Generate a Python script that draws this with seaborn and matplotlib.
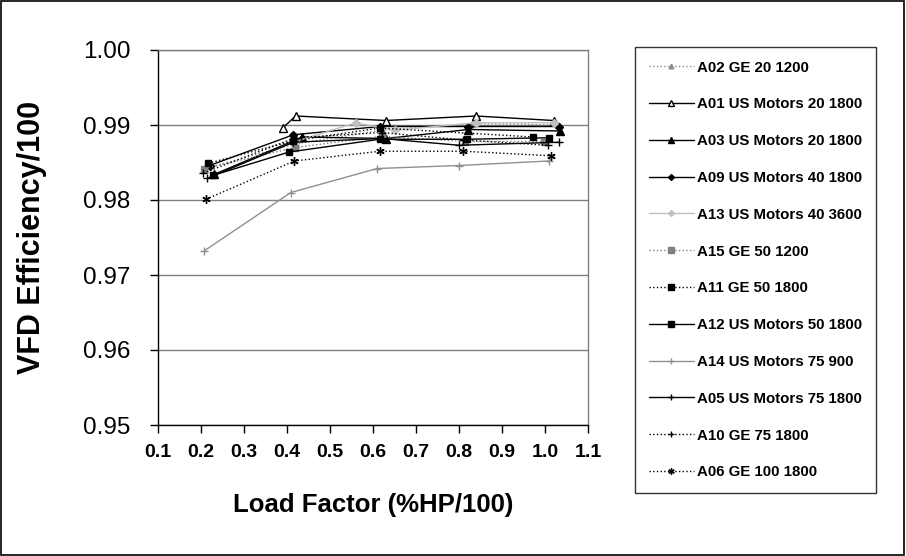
import matplotlib
matplotlib.use("Agg")
import matplotlib.pyplot as plt
import seaborn as sns
import pandas as pd
from matplotlib.patches import Rectangle

sns.set_theme(style="white")
plt.rcParams['font.family'] = ['Liberation Sans', 'DejaVu Sans']
plt.rcParams['text.color'] = 'black'
plt.rcParams['axes.labelcolor'] = 'black'
plt.rcParams['xtick.color'] = 'black'
plt.rcParams['ytick.color'] = 'black'

labels = ["A02 GE 20 1200", "A01 US Motors 20 1800", "A03 US Motors 20 1800",
          "A09 US Motors 40 1800", "A13 US Motors 40 3600", "A15 GE 50 1200",
          "A11 GE 50 1800", "A12 US Motors 50 1800", "A14 US Motors 75 900",
          "A05 US Motors 75 1800", "A10 GE 75 1800", "A06 GE 100 1800"]

a02_x = [0.21, 0.42, 0.62, 0.83, 1.03]
a02_y = [0.9842, 0.9875, 0.9893, 0.9902, 0.9900]
a01_x = [0.39, 0.42, 0.63, 0.84, 1.02]
a01_y = [0.9896, 0.9912, 0.9906, 0.9912, 0.9906]
a03_x = [0.23, 0.436, 0.63, 0.822, 1.035]
a03_y = [0.9834, 0.9884, 0.9882, 0.9894, 0.9892]
a09_x = [0.22, 0.415, 0.616, 0.822, 1.033]
a09_y = [0.9846, 0.9887, 0.9898, 0.9898, 0.9898]
a13_x = [0.42, 0.56, 0.65, 0.84, 1.02]
a13_y = [0.9878, 0.9903, 0.9893, 0.9903, 0.9903]
a15_x = [0.208, 0.419, 0.62, 0.815, 0.998]
a15_y = [0.9842, 0.9870, 0.9885, 0.9878, 0.9878]
a11_x = [0.217, 0.415, 0.616, 0.973]
a11_y = [0.9849, 0.9879, 0.9896, 0.9884]
a12_x = [0.229, 0.405, 0.616, 0.818, 1.009]
a12_y = [0.9833, 0.9864, 0.9881, 0.9881, 0.9883]
a14_x = [0.207, 0.409, 0.61, 0.80, 1.009]
a14_y = [0.9732, 0.9810, 0.9842, 0.9846, 0.9852]
a05_x = [0.215, 0.415, 0.62, 0.80, 1.033]
a05_y = [0.9829, 0.9877, 0.9882, 0.9873, 0.9877]
a10_x = [0.205, 0.42, 0.62, 0.81, 1.006]
a10_y = [0.9836, 0.9883, 0.9890, 0.9880, 0.9873]
a06_x = [0.212, 0.417, 0.616, 0.81, 1.013]
a06_y = [0.9801, 0.9852, 0.9865, 0.9865, 0.9859]

xs = [a02_x, a01_x, a03_x, a09_x, a13_x, a15_x, a11_x, a12_x, a14_x, a05_x, a10_x, a06_x]
ys = [a02_y, a01_y, a03_y, a09_y, a13_y, a15_y, a11_y, a12_y, a14_y, a05_y, a10_y, a06_y]

x_ticks = [0.1, 0.2, 0.3, 0.4, 0.5, 0.6, 0.7, 0.8, 0.9, 1.0, 1.1]
y_ticks = [0.95, 0.96, 0.97, 0.98, 0.99, 1.00]

# style per series: color, line style, marker, marker face, marker size
styles = [
    ("#8c8c8c", ":", "^", "#8c8c8c", 4.5),
    ("#000000", "-", "^", "white", 5.5),
    ("#000000", "-", "^", "#000000", 5.5),
    ("#000000", "-", "D", "#000000", 4.0),
    ("#c0c0c0", "-", "D", "#c0c0c0", 4.0),
    ("#808080", ":", "s", "#808080", 5.0),
    ("#000000", ":", "s", "#000000", 5.0),
    ("#000000", "-", "s", "#000000", 5.0),
    ("#909090", "-", "+", "#909090", 6.0),
    ("#000000", "-", "+", "#000000", 6.0),
    ("#000000", ":", "+", "#000000", 6.0),
    ("#000000", ":", (6, 2, 0), "#000000", 6.0),
]

fig = plt.figure(figsize=(9.06, 5.56), dpi=100)
ax = fig.add_axes([158 / 906, 1 - 425 / 556, 430 / 906, 375 / 556])

for lab, x, y, (c, ls, mk, mf, ms) in zip(labels, xs, ys, styles):
    df = pd.DataFrame({"x": x, "y": y})
    sns.lineplot(data=df, x="x", y="y", ax=ax, color=c, linestyle=ls, marker=mk,
                 markerfacecolor=mf, markeredgecolor=c, markersize=ms,
                 markeredgewidth=1.0, linewidth=1.0, label=lab, sort=False,
                 estimator=None)

ax.set_xlim(0.1, 1.1)
ax.set_ylim(0.95, 1.00)
ax.set_xticks(x_ticks)
ax.set_xticklabels([f"{v:.1f}" for v in x_ticks], fontsize=14, fontweight="bold")
ax.set_yticks(y_ticks)
ax.set_yticklabels([f"{v:.2f}" for v in y_ticks], fontsize=17.5)
ax.yaxis.grid(True, color="#808080", linewidth=1.0)
ax.xaxis.grid(False)
ax.tick_params(axis="both", which="both", direction="out", length=6, width=1,
               color="black", bottom=True, left=True)
ax.tick_params(axis="x", pad=8)
ax.tick_params(axis="y", pad=14)
for s in ["left", "bottom"]:
    ax.spines[s].set_color("black")
    ax.spines[s].set_linewidth(1.0)
for s in ["top", "right"]:
    ax.spines[s].set_color("#808080")
    ax.spines[s].set_linewidth(1.0)

ax.set_xlabel("Load Factor (%HP/100)", fontsize=18.5, fontweight="bold", labelpad=23)
ax.set_ylabel("VFD Efficiency/100", fontsize=22, fontweight="bold", labelpad=26)

handles, labs = ax.get_legend_handles_labels()
ax.get_legend().remove()
leg = fig.legend(handles, labs, loc="upper left",
                 bbox_to_anchor=(635 / 906, 1 - 47 / 556), borderaxespad=0,
                 frameon=True, fancybox=False, edgecolor="black",
                 prop={"weight": "bold", "size": 10.8, "family": "Liberation Sans"},
                 handlelength=3.0, labelspacing=1.52, borderpad=0.9,
                 handletextpad=0.25, markerscale=0.75)
leg.get_frame().set_linewidth(1.0)

fig.patches.append(Rectangle((0.001, 0.001), 0.997, 0.997, transform=fig.transFigure,
                             fill=False, edgecolor="black", linewidth=1.2))

fig.savefig("out.png", dpi=100)
